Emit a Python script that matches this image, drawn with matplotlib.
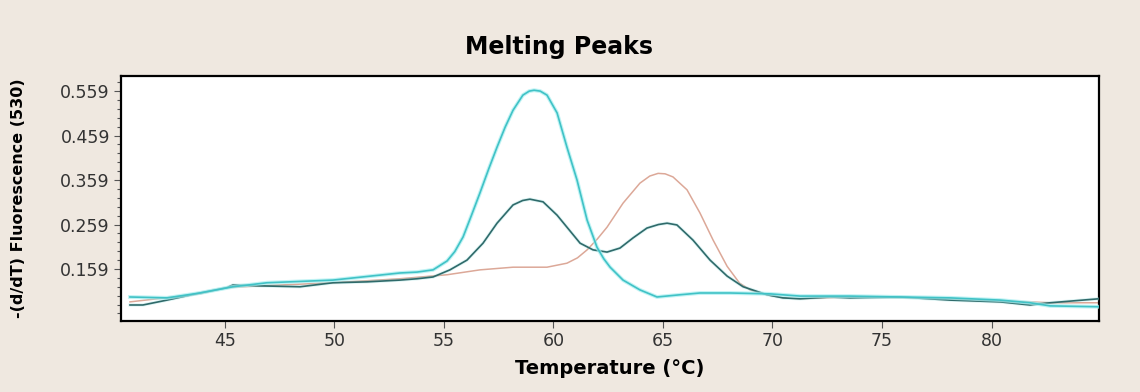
import matplotlib
matplotlib.use("Agg")
import matplotlib.pyplot as plt
import numpy as np
from matplotlib.ticker import FixedLocator

# ---- data ----
cyan_t = [40.68, 42.37, 43.87, 45.38, 46.93, 49.94, 53.00, 53.78, 54.51, 55.15, 55.50, 55.88,
          56.25, 56.65, 57.05, 57.43, 57.80, 58.16, 58.61, 58.90, 59.12, 59.40, 59.71, 60.17,
          60.62, 61.08, 61.54, 61.99, 62.30, 62.59, 63.18, 63.95, 64.73, 65.78, 66.69, 68.06,
          69.89, 71.26, 73.54, 75.82, 78.10, 80.39, 81.75, 82.67, 84.90]
cyan_v = [0.096, 0.094, 0.105, 0.119, 0.128, 0.134, 0.150, 0.152, 0.157, 0.177, 0.198, 0.231,
          0.278, 0.330, 0.384, 0.433, 0.478, 0.516, 0.550, 0.559, 0.561, 0.559, 0.550, 0.510,
          0.433, 0.359, 0.269, 0.208, 0.182, 0.163, 0.134, 0.112, 0.096, 0.101, 0.105, 0.105,
          0.103, 0.098, 0.098, 0.096, 0.094, 0.089, 0.083, 0.076, 0.074]

dark_t = [40.68, 41.27, 42.37, 43.87, 45.10, 45.38, 46.61, 48.44, 49.94, 51.49, 53.00,
          53.78, 54.51, 55.28, 56.06, 56.79, 57.43, 58.16, 58.60, 58.93, 59.53, 60.17, 60.62,
          61.22, 61.81, 62.45, 63.04, 63.64, 64.27, 64.80, 65.19, 65.64, 66.37, 67.15, 67.93,
          68.66, 69.75, 70.48, 71.26, 72.63, 73.54, 75.82, 78.10, 80.39, 81.75, 82.67,
          84.90]
dark_v = [0.078, 0.078, 0.089, 0.105, 0.117, 0.123, 0.121, 0.119, 0.128, 0.130, 0.134,
          0.137, 0.141, 0.157, 0.179, 0.217, 0.262, 0.303, 0.313, 0.316, 0.310, 0.280, 0.253,
          0.217, 0.202, 0.197, 0.206, 0.229, 0.251, 0.259, 0.262, 0.258, 0.224, 0.179, 0.143,
          0.119, 0.101, 0.094, 0.092, 0.096, 0.094, 0.096, 0.089, 0.085, 0.078, 0.083,
          0.092]

orange_t = [40.68, 43.87, 45.10, 46.61, 49.94, 53.00, 55.15, 56.65, 58.16, 59.71, 60.62,
            61.10, 61.54, 62.00, 62.45, 63.18, 63.95, 64.40, 64.78, 65.10, 65.46, 66.10,
            66.69, 67.29, 67.93, 68.50, 68.98, 69.75, 70.48, 71.26, 73.54, 75.82, 78.10,
            80.39, 81.75, 82.67, 84.90]
orange_v = [0.085, 0.103, 0.117, 0.121, 0.128, 0.137, 0.146, 0.157, 0.163, 0.163, 0.172,
            0.184, 0.202, 0.226, 0.253, 0.307, 0.352, 0.368, 0.374, 0.373, 0.366, 0.337,
            0.285, 0.224, 0.165, 0.127, 0.112, 0.101, 0.094, 0.092, 0.096, 0.094, 0.092,
            0.087, 0.085, 0.083, 0.083]

x_ticks = [45, 50, 55, 60, 65, 70, 75, 80]
y_ticks = [0.159, 0.259, 0.359, 0.459, 0.559]
y_tick_labels = ["0.159", "0.259", "0.359", "0.459", "0.559"]

title = "Melting Peaks"
x_label = "Temperature (\u00b0C)"
y_label = "-(d/dT) Fluorescence (530)"

# ---- figure ----
BG = "#efe8e0"
fig = plt.figure(figsize=(11.4, 3.92), dpi=100, facecolor=BG)
ax = fig.add_axes([121 / 1140, 1 - 321 / 392, (1099 - 121) / 1140, (321 - 76) / 392])
ax.set_facecolor("white")

ax.plot(orange_t, orange_v, color="#dca898", lw=1.1, zorder=2)
ax.plot(dark_t, dark_v, color="#8fdcdc", lw=2.4, alpha=0.3, zorder=3)
ax.plot(dark_t, dark_v, color="#2f6a6a", lw=1.2, zorder=4)
ax.plot(cyan_t, cyan_v, color="#a6eef0", lw=2.8, alpha=0.7, zorder=5)
ax.plot(cyan_t, cyan_v, color="#40c2c6", lw=1.2, zorder=6)

ax.set_xlim(40.27, 84.90)
ax.set_ylim(0.042, 0.593)

ax.set_xticks(x_ticks)
ax.set_yticks(y_ticks)
ax.set_yticklabels(y_tick_labels)
minor = [v for v in np.round(np.arange(0.059, 0.59, 0.02), 3) if round(v, 3) not in y_ticks]
ax.yaxis.set_minor_locator(FixedLocator(minor))

for s in ax.spines.values():
    s.set_color("black")
    s.set_linewidth(1.6)

ax.tick_params(axis="both", which="major", direction="out", length=5, width=0.8,
               color="#555555", labelsize=12.5, labelcolor="#333333", pad=3)
ax.tick_params(axis="y", which="minor", direction="out", length=3, width=0.8, color="#555555")
for lab in ax.get_xticklabels() + ax.get_yticklabels():
    lab.set_family("DejaVu Sans")

ax.set_xlabel(x_label, fontsize=14, fontweight="bold", family="DejaVu Sans")
ax.xaxis.set_label_coords(0.5, (321 - 359) / 245)
ax.set_ylabel(y_label, fontsize=11.5, fontweight="bold", family="DejaVu Sans")
ax.yaxis.set_label_coords((26 - 121) / 978, 0.5)

fig.text(559 / 1140, 1 - 47 / 392, title, ha="center", va="center",
         fontsize=17, fontweight="bold", family="DejaVu Sans")

fig.savefig("out.png", dpi=100, facecolor=BG)
